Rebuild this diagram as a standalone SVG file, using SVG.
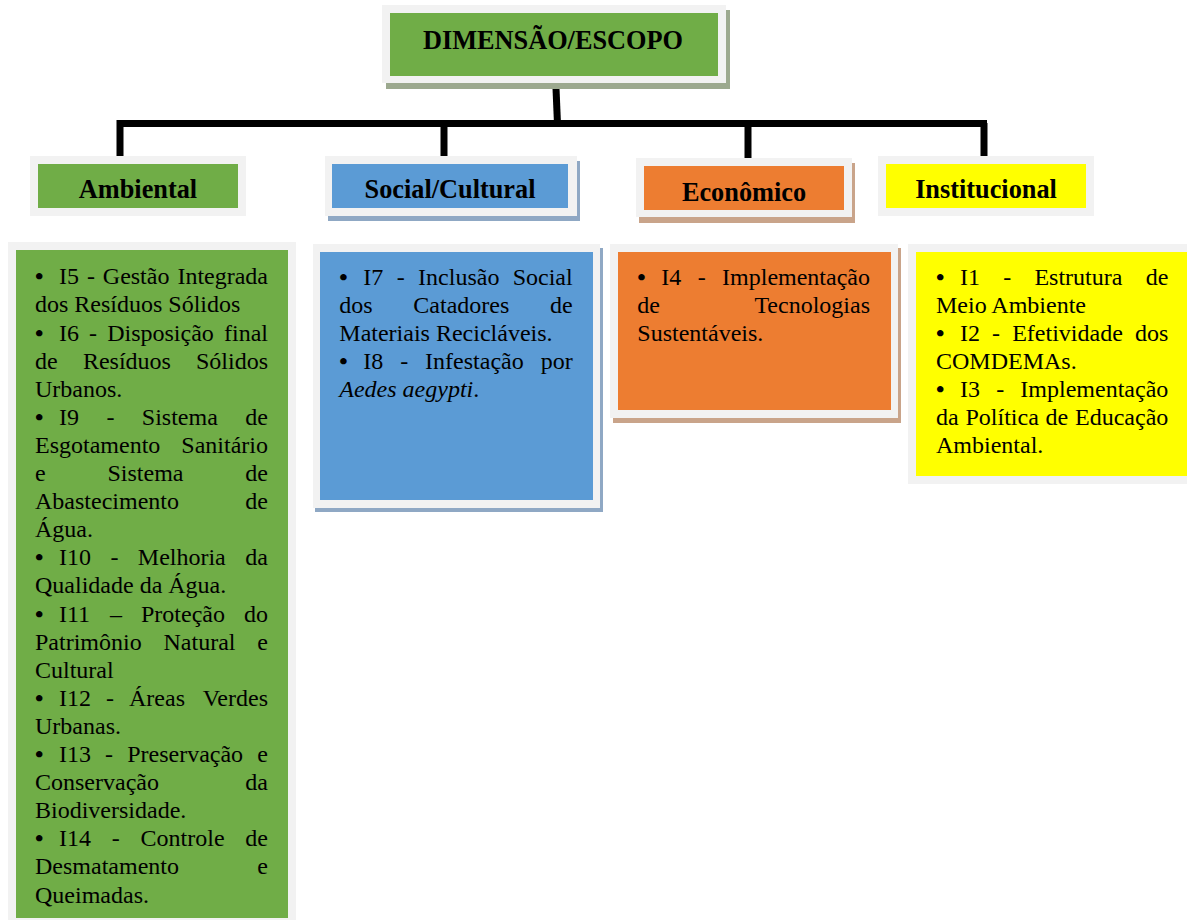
<svg xmlns="http://www.w3.org/2000/svg" width="1187" height="920" viewBox="0 0 1187 920">
<style>
.frame{fill:#f2f2f2}
.t{font-family:"Liberation Serif","Times New Roman",serif;font-size:24px;fill:#000}
.bu{font-family:"Liberation Serif","Times New Roman",serif;font-size:24px;font-weight:bold;fill:#000}
.r{text-anchor:end}
.h{font-family:"Liberation Serif","Times New Roman",serif;font-size:26.3px;font-weight:bold;fill:#000;text-anchor:middle}
.it{font-style:italic}
.conn{stroke:#000;stroke-width:7;fill:none;stroke-linecap:butt}
</style>
<rect width="1187" height="920" fill="#fff"/>

<g id="connectors">
<line class="conn" x1="556" y1="88" x2="557.5" y2="124"/>
<polyline class="conn" points="120,157 120,123.5 987,123.5"/>
<line class="conn" x1="444" y1="123" x2="444" y2="157"/>
<line class="conn" x1="748" y1="123" x2="748" y2="159"/>
<line class="conn" x1="984" y1="123" x2="984" y2="157"/>
</g>

<g id="root">
<rect x="386" y="10" width="344" height="79" fill="#9ca98f"/>
<rect class="frame" x="382" y="5" width="344" height="78"/>
<rect x="390" y="13" width="328" height="63" fill="#70ad47"/>
<text class="h" x="553" y="49">DIMENSÃO/ESCOPO</text>
</g>

<g id="h-ambiental">
<rect class="frame" x="30" y="156" width="216" height="60"/>
<rect x="38" y="164" width="200" height="44" fill="#70ad47"/>
<text class="h" x="138" y="198">Ambiental</text>
</g>

<g id="h-social">
<rect x="328" y="161" width="252" height="60" fill="#8fa8c4"/>
<rect class="frame" x="325" y="156" width="252" height="60"/>
<rect x="332" y="164" width="236" height="44" fill="#5b9bd5"/>
<text class="h" x="450" y="198">Social/Cultural</text>
</g>

<g id="h-economico">
<rect x="639" y="163" width="216" height="60" fill="#c9a48a"/>
<rect class="frame" x="636" y="158" width="216" height="59"/>
<rect x="644" y="166" width="200" height="44" fill="#ed7d31"/>
<text class="h" x="744" y="200.5">Econômico</text>
</g>

<g id="h-institucional">
<rect class="frame" x="878" y="156" width="216" height="60"/>
<rect x="886" y="164" width="200" height="44" fill="#ffff00"/>
<text class="h" x="986" y="198">Institucional</text>
</g>

<g id="b-ambiental">
<rect class="frame" x="8" y="242" width="288" height="680"/>
<rect x="16" y="250" width="272" height="668" fill="#70ad47"/>
<text class="bu" x="35" y="284.3">•</text>
<text class="t" y="284.3"><tspan x="59">I5</tspan><tspan x="86.9">-</tspan><tspan x="102.8">Gestão</tspan></text>
<text class="t r" x="268" y="284.3">Integrada</text>
<text class="t" x="35" y="312.4">dos Resíduos Sólidos</text>
<text class="bu" x="35" y="340.5">•</text>
<text class="t" y="340.5"><tspan x="59">I6</tspan><tspan x="89.1">-</tspan><tspan x="107.2">Disposição</tspan></text>
<text class="t r" x="268" y="340.5">final</text>
<text class="t" y="368.6"><tspan x="35">de</tspan><tspan x="82.9">Resíduos</tspan></text>
<text class="t r" x="268" y="368.6">Sólidos</text>
<text class="t" x="35" y="396.7">Urbanos.</text>
<text class="bu" x="35" y="424.8">•</text>
<text class="t" y="424.8"><tspan x="59">I9</tspan><tspan x="106.4">-</tspan><tspan x="141.8">Sistema</tspan></text>
<text class="t r" x="268" y="424.8">de</text>
<text class="t" x="35" y="452.9">Esgotamento</text>
<text class="t r" x="268" y="452.9">Sanitário</text>
<text class="t" y="481"><tspan x="35">e</tspan><tspan x="107.5">Sistema</tspan></text>
<text class="t r" x="268" y="481">de</text>
<text class="t" x="35" y="509.1">Abastecimento</text>
<text class="t r" x="268" y="509.1">de</text>
<text class="t" x="35" y="537.2">Água.</text>
<text class="bu" x="35" y="565.3">•</text>
<text class="t" y="565.3"><tspan x="59">I10</tspan><tspan x="110.4">-</tspan><tspan x="137.8">Melhoria</tspan></text>
<text class="t r" x="268" y="565.3">da</text>
<text class="t" x="35" y="593.4">Qualidade da Água.</text>
<text class="bu" x="35" y="621.5">•</text>
<text class="t" y="621.5"><tspan x="59">I11</tspan><tspan x="110">–</tspan><tspan x="141">Proteção</tspan></text>
<text class="t r" x="268" y="621.5">do</text>
<text class="t" y="649.6"><tspan x="35">Patrimônio</tspan><tspan x="163.5">Natural</tspan></text>
<text class="t r" x="268" y="649.6">e</text>
<text class="t" x="35" y="677.7">Cultural</text>
<text class="bu" x="35" y="705.8">•</text>
<text class="t" y="705.8"><tspan x="59">I12</tspan><tspan x="106">-</tspan><tspan x="129">Áreas</tspan></text>
<text class="t r" x="268" y="705.8">Verdes</text>
<text class="t" x="35" y="733.9">Urbanas.</text>
<text class="bu" x="35" y="762">•</text>
<text class="t" y="762"><tspan x="59">I13</tspan><tspan x="105.1">-</tspan><tspan x="127.2">Preservação</tspan></text>
<text class="t r" x="268" y="762">e</text>
<text class="t" x="35" y="790.1">Conservação</text>
<text class="t r" x="268" y="790.1">da</text>
<text class="t" x="35" y="818.2">Biodiversidade.</text>
<text class="bu" x="35" y="846.3">•</text>
<text class="t" y="846.3"><tspan x="59">I14</tspan><tspan x="111.8">-</tspan><tspan x="140.6">Controle</tspan></text>
<text class="t r" x="268" y="846.3">de</text>
<text class="t" x="35" y="874.4">Desmatamento</text>
<text class="t r" x="268" y="874.4">e</text>
<text class="t" x="35" y="902.5">Queimadas.</text>
</g>

<g id="b-social">
<rect x="315" y="248" width="288" height="264" fill="#8fa8c4"/>
<rect class="frame" x="313" y="244" width="287" height="264"/>
<rect x="320" y="252" width="273" height="248" fill="#5b9bd5"/>
<text class="bu" x="339.3" y="285">•</text>
<text class="t" y="285"><tspan x="363.3">I7</tspan><tspan x="396.7">-</tspan><tspan x="418.1">Inclusão</tspan></text>
<text class="t r" x="572.7" y="285">Social</text>
<text class="t" y="313"><tspan x="339.3">dos</tspan><tspan x="413.3">Catadores</tspan></text>
<text class="t r" x="572.7" y="313">de</text>
<text class="t" x="339.3" y="341">Materiais Recicláveis.</text>
<text class="bu" x="339.3" y="369">•</text>
<text class="t" y="369"><tspan x="363.3">I8</tspan><tspan x="400.2">-</tspan><tspan x="425.1">Infestação</tspan></text>
<text class="t r" x="572.7" y="369">por</text>
<text class="t" x="339.3" y="397"><tspan class="it">Aedes aegypti</tspan>.</text>
</g>

<g id="b-economico">
<rect x="613" y="248" width="288" height="175" fill="#c9a48a"/>
<rect class="frame" x="610" y="244" width="288" height="174"/>
<rect x="618" y="252" width="273" height="158" fill="#ed7d31"/>
<text class="bu" x="637.3" y="285">•</text>
<text class="t" y="285"><tspan x="661.3">I4</tspan><tspan x="697.7">-</tspan></text>
<text class="t r" x="870" y="285">Implementação</text>
<text class="t" x="637.3" y="313">de</text>
<text class="t r" x="870" y="313">Tecnologias</text>
<text class="t" x="637.3" y="341">Sustentáveis.</text>
</g>

<g id="b-institucional">
<rect class="frame" x="908" y="244" width="280" height="240"/>
<rect x="916" y="252" width="272" height="224" fill="#ffff00"/>
<text class="bu" x="936" y="285">•</text>
<text class="t" y="285"><tspan x="960">I1</tspan><tspan x="1003.2">-</tspan><tspan x="1034.4">Estrutura</tspan></text>
<text class="t r" x="1168.3" y="285">de</text>
<text class="t" x="936" y="313">Meio Ambiente</text>
<text class="bu" x="936" y="341">•</text>
<text class="t" y="341"><tspan x="960">I2</tspan><tspan x="992.1">-</tspan><tspan x="1012.2">Efetividade</tspan></text>
<text class="t r" x="1168.3" y="341">dos</text>
<text class="t" x="936" y="369">COMDEMAs.</text>
<text class="bu" x="936" y="397">•</text>
<text class="t" y="397"><tspan x="960">I3</tspan><tspan x="996.2">-</tspan></text>
<text class="t r" x="1168.3" y="397">Implementação</text>
<text class="t" y="425"><tspan x="936">da</tspan><tspan x="965.5">Política</tspan><tspan x="1045.6">de</tspan></text>
<text class="t r" x="1168.3" y="425">Educação</text>
<text class="t" x="936" y="453">Ambiental.</text>
</g>
</svg>
